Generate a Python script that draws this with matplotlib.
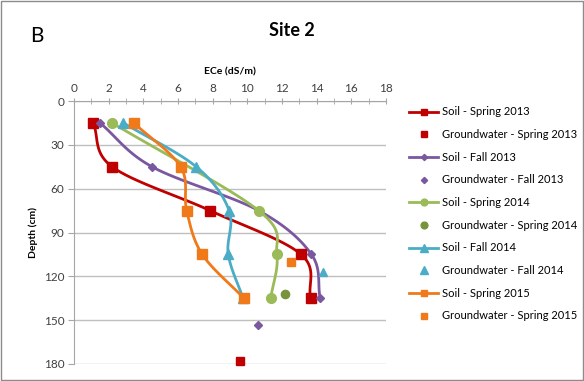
import numpy as np
import matplotlib
matplotlib.use('Agg')
import matplotlib.pyplot as plt
from matplotlib.lines import Line2D
from matplotlib.patches import Rectangle

plt.rcParams['font.family'] = ['Lato', 'DejaVu Sans']

depth = [15, 45, 75, 105, 135]

# soil profiles (ECe, dS/m) by sampling date
soil_spr13 = [1.1, 2.2, 7.85, 13.1, 13.65]
soil_fall13 = [1.5, 4.5, 10.65, 13.7, 14.2]
soil_spr14_depth = [15, 75, 105, 135]
soil_spr14 = [2.2, 10.65, 11.7, 11.35]
soil_fall14 = [2.85, 7.05, 8.95, 8.9, 9.75]
soil_spr15 = [3.45, 6.15, 6.5, 7.4, 9.8]

# groundwater (ECe, depth)
gw_spr13 = (9.6, 178)
gw_fall13 = (10.6, 153)
gw_spr14 = (12.2, 132)
gw_fall14 = (14.35, 117)
gw_spr15 = (12.5, 110)

red = '#C00000'
purple = '#7A58A0'
green = '#9BBB59'
dgreen = '#77933C'
blue = '#4BACC6'
orange = '#F07A1A'


def smooth(x, y, n=24):
    # Catmull-Rom curve through the points, similar to a smoothed Excel line
    p = np.column_stack([x, y]).astype(float)
    p = np.vstack([2 * p[0] - p[1], p, 2 * p[-1] - p[-2]])
    out = []
    t = np.linspace(0, 1, n)[:, None]
    for i in range(1, len(p) - 2):
        p0, p1, p2, p3 = p[i - 1], p[i], p[i + 1], p[i + 2]
        seg = 0.5 * ((2 * p1) + (-p0 + p2) * t + (2 * p0 - 5 * p1 + 4 * p2 - p3) * t ** 2
                     + (-p0 + 3 * p1 - 3 * p2 + p3) * t ** 3)
        out.append(seg)
    s = np.vstack(out)
    return s[:, 0], s[:, 1]


fig = plt.figure(figsize=(5.84, 3.81), dpi=100)
ax = fig.add_axes([74 / 584, 1 - 364 / 381, 312 / 584, 263 / 381])

series = [
    (soil_spr13, depth, red, 's', 7, gw_spr13, red, 'Spring 2013'),
    (soil_fall13, depth, purple, 'D', 4.5, gw_fall13, purple, 'Fall 2013'),
    (soil_spr14, soil_spr14_depth, green, 'o', 7, gw_spr14, dgreen, 'Spring 2014'),
    (soil_fall14, depth, blue, '^', 7.5, gw_fall14, blue, 'Fall 2014'),
    (soil_spr15, depth, orange, 's', 7, gw_spr15, orange, 'Spring 2015'),
]

handles = []
labels = []
for xs, ds, c, m, ms, gw, gc, name in series:
    sx, sy = smooth(xs, ds)
    ax.plot(sx, sy, color=c, lw=2, zorder=3, clip_on=False)
    ax.plot(xs, ds, ls='none', marker=m, ms=ms, color=c, mec=c, zorder=4, clip_on=False)
    ax.plot(gw[0], gw[1], ls='none', marker=m, ms=ms * 0.85, color=gc, mec=gc, zorder=4, clip_on=False)
    handles.append(Line2D([], [], color=c, lw=2, marker=m, ms=ms * 0.7))
    labels.append('Soil - ' + name)
    handles.append(Line2D([], [], ls='none', color=gc, marker=m, ms=ms * 0.7))
    labels.append('Groundwater - ' + name)

ax.set_xlim(0, 18)
ax.set_ylim(180, 0)
ax.set_xticks(np.arange(0, 19, 2))
ax.set_xticks(np.arange(0, 19, 1), minor=True)
ax.set_yticks(np.arange(0, 181, 30))
ax.xaxis.tick_top()
ax.xaxis.set_label_position('top')
ax.tick_params(axis='x', which='both', direction='inout', length=4, color='#A6A6A6',
               labelsize=8.5, labelcolor='#404040', pad=3)
ax.tick_params(axis='y', direction='out', length=4, color='#A6A6A6',
               labelsize=8.5, labelcolor='#404040', pad=3)
ax.grid(axis='y', color='#BFBFBF', lw=1)
ax.set_axisbelow(True)
for side in ['right', 'bottom']:
    ax.spines[side].set_visible(False)
ax.spines['top'].set_color('#A6A6A6')
ax.spines['left'].set_color('#A6A6A6')
ax.set_xlabel('ECe (dS/m)', fontsize=7.5, fontweight='bold', labelpad=6)
ax.set_ylabel('Depth (cm)', fontsize=7.5, fontweight='bold', labelpad=4)

fig.text(292 / 584, 1 - 30 / 381, 'Site 2', fontsize=13, fontweight='bold', ha='center', va='center')
fig.text(30 / 584, 1 - 36 / 381, 'B', fontsize=15, ha='left', va='center')

fig.legend(handles, labels, loc='upper left', bbox_to_anchor=(405 / 584, 1 - 102 / 381),
           frameon=False, fontsize=8, labelspacing=1.05, handlelength=2.6,
           handletextpad=0.3, borderaxespad=0)

fig.patches.append(Rectangle((0.001, 0.002), 0.997, 0.996, transform=fig.transFigure,
                             fill=False, ec='#8C8C8C', lw=1))

fig.savefig('out.png', dpi=100)
